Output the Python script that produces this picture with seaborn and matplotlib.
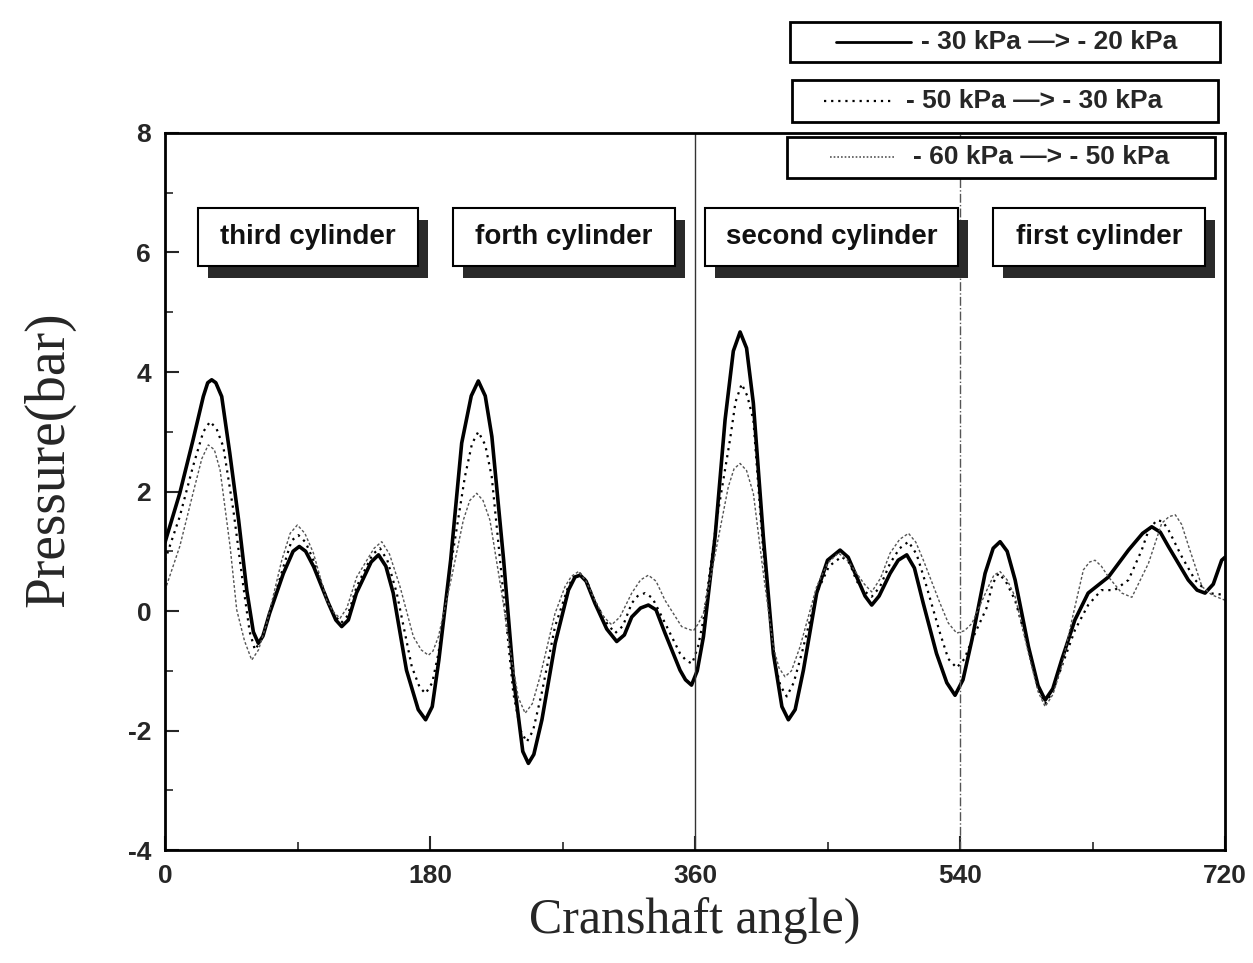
import seaborn as sb
import matplotlib.pyplot as plt
from matplotlib.patches import Rectangle
from matplotlib.lines import Line2D

# Read-off values (crank angle in degrees, pressure in bar)
# solid curve: -30 kPa -> -20 kPa
angle_a = [0, 10, 19, 26, 29, 31.7, 34.5, 38.5, 44, 50,
           55.5, 60, 63.4, 66.5, 71, 80.4, 87, 91.2, 95.5, 101,
           111, 116, 120, 124.5, 130, 140, 145, 150, 155, 164,
           172, 177, 181.5, 186, 194, 201.5, 208, 212.8, 217.5, 222,
           230, 236.6, 243, 246.8, 250.5, 256, 265, 274, 278.5, 282,
           286, 292, 300, 306.8, 312, 317, 323, 328.3, 333.5, 339.6,
           349.8, 353.5, 357.6, 361.5, 365.7, 373.6, 380.4, 386, 390.6, 395,
           399.6, 406.4, 413.2, 419, 423.4, 428, 433.6, 442.6, 450, 458.5,
           464, 469.8, 475.5, 480, 485, 492.5, 498, 503.8, 509, 515,
           524, 531, 536.6, 542, 548, 557, 562.5, 567.2, 572, 577.4,
           586.5, 593, 597.8, 603, 609, 618, 627, 640.8, 654.4, 664,
           670.2, 676, 681.5, 695, 701, 706.4, 712, 717.7, 720]
p_a = [1.15, 1.97, 2.86, 3.59, 3.82, 3.87, 3.82, 3.59, 2.64, 1.52,
       0.35, -0.35, -0.54, -0.42, -0.04, 0.63, 1.0, 1.08, 1.0, 0.74,
       0.13, -0.15, -0.26, -0.15, 0.3, 0.82, 0.94, 0.75, 0.3, -0.99,
       -1.65, -1.82, -1.6, -0.82, 0.85, 2.81, 3.6, 3.85, 3.6, 2.92,
       0.85, -1.1, -2.35, -2.55, -2.4, -1.82, -0.54, 0.35, 0.57, 0.6,
       0.5, 0.13, -0.3, -0.51, -0.4, -0.1, 0.05, 0.1, 0.02, -0.37,
       -0.99, -1.15, -1.24, -1.0, -0.43, 1.24, 3.2, 4.35, 4.67, 4.4,
       3.48, 1.24, -0.71, -1.6, -1.82, -1.65, -0.99, 0.3, 0.85, 1.02,
       0.9, 0.57, 0.25, 0.1, 0.25, 0.63, 0.85, 0.94, 0.72, 0.13,
       -0.71, -1.2, -1.41, -1.15, -0.49, 0.63, 1.05, 1.16, 1.0, 0.52,
       -0.6, -1.25, -1.49, -1.3, -0.82, -0.15, 0.3, 0.57, 1.02, 1.3,
       1.41, 1.32, 1.08, 0.52, 0.35, 0.3, 0.45, 0.85, 0.9]

# dotted curve: -50 kPa -> -30 kPa
angle_b = [0, 10, 19, 26, 30.6, 35, 39.6, 46.4, 53.2, 57.5,
           61.1, 65, 70.2, 80.4, 86, 90.6, 95.5, 100.8, 111, 115.5,
           119.6, 124, 130.2, 141, 146, 151, 157.4, 167.6, 173, 177,
           181.5, 185.7, 194.7, 203.7, 208.5, 212.8, 217.5, 221.9, 229.8, 236.6,
           241.5, 245.7, 250, 255.8, 264.9, 273.9, 277.5, 281.9, 286.5, 292,
           300, 305.7, 311, 317, 321, 326, 331, 339.6, 349.8, 354,
           358, 362, 365.7, 374.7, 383.7, 387.5, 391.7, 395.5, 399.6, 406.4,
           414.3, 418, 422.3, 427, 432.5, 442.6, 451, 459.6, 465, 469.8,
           475, 480, 485.5, 492.5, 499, 505, 510.5, 516.2, 526.4, 532,
           537.7, 543, 548, 558, 562, 566.1, 571, 577.4, 587.6, 593,
           597.8, 603, 609, 618, 627, 636, 645, 654.4, 663.4, 668,
           673.6, 677.5, 681.5, 690.6, 699.6, 708.7, 720]
p_b = [0.85, 1.58, 2.42, 3.0, 3.17, 3.05, 2.75, 1.69, 0.41, -0.35,
       -0.65, -0.5, -0.1, 0.74, 1.18, 1.27, 1.15, 0.85, 0.13, -0.08,
       -0.2, -0.08, 0.41, 0.95, 1.05, 0.85, 0.3, -0.93, -1.28, -1.38,
       -1.2, -0.71, 0.85, 2.25, 2.8, 3.0, 2.78, 2.25, 0.3, -1.38,
       -2.0, -2.19, -2.0, -1.38, -0.26, 0.41, 0.57, 0.63, 0.5, 0.16,
       -0.2, -0.37, -0.25, 0.13, 0.25, 0.3, 0.22, -0.2, -0.71, -0.83,
       -0.88, -0.6, -0.15, 1.52, 2.86, 3.5, 3.8, 3.6, 3.2, 0.97,
       -0.88, -1.25, -1.43, -1.2, -0.71, 0.3, 0.75, 0.91, 0.8, 0.5,
       0.33, 0.24, 0.4, 0.8, 1.05, 1.16, 0.95, 0.5, -0.37, -0.8,
       -0.95, -0.8, -0.49, 0.05, 0.45, 0.63, 0.5, 0.18, -0.71, -1.3,
       -1.55, -1.35, -0.93, -0.32, 0.1, 0.35, 0.35, 0.52, 1.02, 1.35,
       1.52, 1.5, 1.36, 0.91, 0.52, 0.3, 0.27]

# fine dashed curve: -60 kPa -> -50 kPa
angle_c = [0, 10, 19, 25, 29.4, 33.5, 37.4, 44.2, 48.7, 54,
           58.9, 63.5, 69, 79.3, 85, 89.9, 95, 100.8, 109.8, 114.5,
           118.9, 123.5, 130.2, 142, 147.2, 152.5, 159.6, 168.7, 174, 178.9,
           182, 185.7, 194.7, 202.6, 207, 211.7, 216, 220.7, 228.7, 235.5,
           240, 244.6, 249.5, 254.7, 264.9, 271.7, 276, 280.8, 286, 292,
           298, 303.4, 309, 317, 323, 328.3, 333.5, 339.6, 350.9, 355,
           358.9, 362, 365.7, 374.7, 382.6, 386.5, 390.6, 395, 399.6, 406.4,
           413.2, 417, 421.1, 425.5, 431.3, 442.6, 450, 457.4, 463.5, 469.8,
           475, 480, 486, 492.5, 499, 505, 510, 515.1, 526.4, 532,
           537.7, 543, 548, 559.3, 563, 567.2, 572, 577.4, 586.5, 593,
           597.8, 603, 609, 617, 623.8, 628, 631.7, 636, 640.8, 649.9,
           656.7, 668, 677, 682, 686.2, 690.5, 695.3, 704.3, 711, 720]
p_c = [0.35, 1.08, 1.97, 2.55, 2.78, 2.7, 2.36, 1.08, 0.02, -0.5,
       -0.82, -0.65, -0.21, 0.85, 1.3, 1.44, 1.3, 0.97, 0.18, -0.02,
       -0.12, 0.05, 0.57, 1.05, 1.16, 0.95, 0.41, -0.43, -0.65, -0.74,
       -0.67, -0.43, 0.57, 1.52, 1.85, 1.97, 1.85, 1.52, 0.3, -0.82,
       -1.45, -1.71, -1.55, -1.1, -0.04, 0.41, 0.58, 0.66, 0.5, 0.18,
       -0.1, -0.23, -0.1, 0.3, 0.52, 0.6, 0.5, 0.18, -0.26, -0.3,
       -0.33, -0.22, -0.04, 1.08, 2.08, 2.38, 2.47, 2.35, 1.97, 0.63,
       -0.6, -0.95, -1.1, -1.0, -0.6, 0.41, 0.8, 0.97, 0.85, 0.63,
       0.45, 0.32, 0.55, 0.97, 1.2, 1.3, 1.15, 0.85, 0.13, -0.2,
       -0.37, -0.33, -0.21, 0.41, 0.6, 0.66, 0.52, 0.24, -0.71, -1.35,
       -1.6, -1.4, -0.93, -0.04, 0.69, 0.82, 0.85, 0.75, 0.57, 0.3,
       0.23, 0.8, 1.47, 1.58, 1.61, 1.45, 1.08, 0.41, 0.27, 0.18]

series_labels = ["- 30 kPa \u2014> - 20 kPa", "- 50 kPa \u2014> - 30 kPa", "- 60 kPa \u2014> - 50 kPa"]
cylinder_labels = ["third cylinder", "forth cylinder", "second cylinder", "first cylinder"]

sb.set_style('ticks')
plt.rcParams['font.family'] = ['Liberation Sans', 'DejaVu Sans']
plt.rcParams['axes.unicode_minus'] = False

fig = plt.figure(figsize=(12.53, 9.63), dpi=100)
ax = fig.add_axes([0.1317, 0.1173, 0.846, 0.7446])

# the three curves
sb.lineplot(x=angle_a, y=p_a, ax=ax, sort=False, estimator=None,
            color='black', linewidth=2.6)
sb.lineplot(x=angle_b, y=p_b, ax=ax, sort=False, estimator=None,
            color='black', linewidth=1.6, linestyle=(0, (1, 2.2)))
sb.lineplot(x=angle_c, y=p_c, ax=ax, sort=False, estimator=None,
            color='#555555', linewidth=1.0, linestyle=(0, (2, 1.5)))

# cylinder boundaries
ax.axvline(360, color='#333333', linewidth=1.0)
ax.axvline(540, color='#555555', linewidth=1.0, linestyle='-.')

ax.set_xlim(0, 720)
ax.set_ylim(-4, 8)
ax.set_xticks([0, 180, 360, 540, 720])
ax.set_xticks([90, 270, 450, 630], minor=True)
ax.set_yticks([-4, -2, 0, 2, 4, 6, 8])
ax.set_yticks([-3, -1, 1, 3, 5, 7], minor=True)
ax.tick_params(which='major', direction='in', length=10, width=1.5, pad=10,
               labelsize=19)
ax.tick_params(which='minor', direction='in', length=6, width=1.2)
for lab in ax.get_xticklabels() + ax.get_yticklabels():
    lab.set_fontweight('bold')
for sp in ax.spines.values():
    sp.set_linewidth(2)
    sp.set_color('black')

ax.set_xlabel("Cranshaft angle)", family=['Liberation Serif', 'DejaVu Serif'], fontsize=36)
ax.set_ylabel("Pressure(bar)", family=['Liberation Serif', 'DejaVu Serif'], fontsize=40)
ax.xaxis.set_label_coords(0.5, -0.065)
ax.yaxis.set_label_coords(-0.085, 0.545)

# cylinder label boxes with drop shadow
box_x0 = [22.4, 195.6, 366.8, 562.4]
box_x1 = [171.9, 346.4, 538.5, 706.5]
for lab, x0, x1 in zip(cylinder_labels, box_x0, box_x1):
    ax.add_patch(Rectangle((x0 + 7, 5.58), x1 - x0, 0.97, facecolor='#2a2a2a',
                           edgecolor='none', zorder=5))
    ax.add_patch(Rectangle((x0, 5.78), x1 - x0, 0.97, facecolor='white',
                           edgecolor='black', linewidth=1.5, zorder=6))
    ax.text((x0 + x1) / 2, 6.26, lab, ha='center', va='center', fontsize=20,
            fontweight='bold', color='#111111', zorder=7)

# legend drawn as three separate framed entries, as in the original
W, H = 1253.0, 963.0
boxes = [(790, 22, 1220, 62), (792, 80, 1218, 122), (787, 137, 1215, 178)]
samples = [(836, 911), (824, 891), (830, 896)]
text_x = [921, 906, 913]
styles = [dict(color='black', linewidth=2.0),
          dict(color='black', linewidth=1.6, linestyle=(0, (1, 2.2))),
          dict(color='#555555', linewidth=1.2, linestyle=(0, (1, 1.2)))]
for (bx0, by0, bx1, by1), (sx0, sx1), tx, st, lab in zip(boxes, samples, text_x, styles, series_labels):
    fig.add_artist(Rectangle((bx0 / W, 1 - by1 / H), (bx1 - bx0) / W, (by1 - by0) / H,
                             transform=fig.transFigure, facecolor='white',
                             edgecolor='black', linewidth=2, zorder=10))
    yc = 1 - (by0 + by1) / 2 / H
    fig.add_artist(Line2D([sx0 / W, sx1 / W], [yc, yc], transform=fig.transFigure,
                          zorder=11, **st))
    fig.text(tx / W, yc, lab, ha='left', va='center', fontsize=19,
             fontweight='bold', zorder=12)

fig.savefig('out.png', dpi=100)
